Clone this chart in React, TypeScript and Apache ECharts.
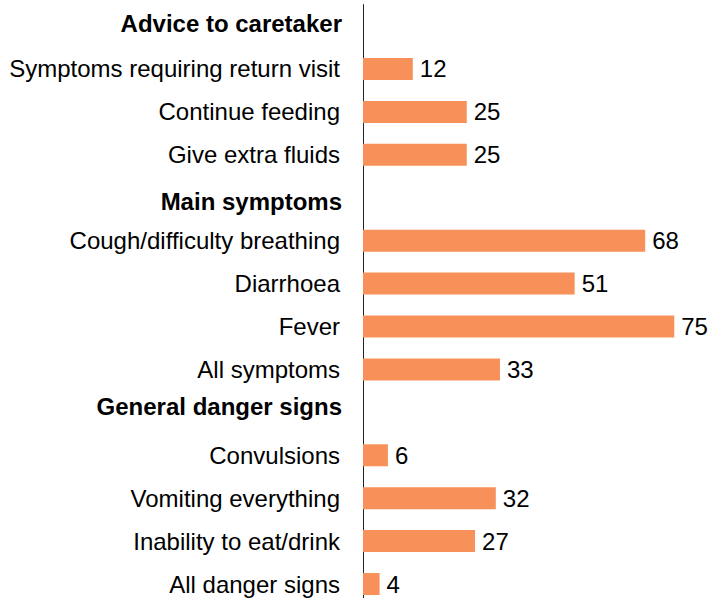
import React, { useEffect, useRef } from "react";
import * as echarts from "echarts";

const categories = [
  "Advice to caretaker",
  "Symptoms requiring return visit",
  "Continue feeding",
  "Give extra fluids",
  "Main symptoms",
  "Cough/difficulty breathing",
  "Diarrhoea",
  "Fever",
  "All symptoms",
  "General danger signs",
  "Convulsions",
  "Vomiting everything",
  "Inability to eat/drink",
  "All danger signs",
];
const values: (number | null)[] = [null, 12, 25, 25, null, 68, 51, 75, 33, null, 6, 32, 27, 4];
const isHeader = [true, false, false, false, true, false, false, false, false, true, false, false, false, false];

const FONT = "'Liberation Sans', Arial, sans-serif";

export default function App() {
  const ref = useRef<HTMLDivElement>(null);
  useEffect(() => {
    if (!ref.current) return;
    const chart = echarts.init(ref.current, null, { renderer: "svg" });
    chart.setOption({
      animation: false,
      grid: { left: 363, width: 332, top: 4.6, height: 600.9, containLabel: false },
      xAxis: { type: "value", min: 0, max: 80, show: false },
      yAxis: {
        type: "category",
        inverse: true,
        data: categories,
        axisLine: { show: true, lineStyle: { color: "#222", width: 1 } },
        axisTick: { show: false },
        splitLine: { show: false },
        axisLabel: {
          margin: 21,
          interval: 0,
          formatter: (v: string, i: number) => {
            if (isHeader[i]) return `{h${i}|${v}}`;
            return `{n|${v}}`;
          },
          rich: {
            n: { fontFamily: FONT, fontSize: 24, color: "#000", padding: [0, 2, 0, 0] },
            h0: { fontFamily: FONT, fontSize: 24, fontWeight: "bold", color: "#000", padding: [0, 0, 5, 0] },
            h4: { fontFamily: FONT, fontSize: 24, fontWeight: "bold", color: "#000", padding: [7, 0, 0, 0] },
            h9: { fontFamily: FONT, fontSize: 24, fontWeight: "bold", color: "#000", padding: [0, 0, 12, 0] },
          },
        },
      },
      series: [
        {
          type: "bar",
          data: values.map((v) => (v === null ? "-" : v)),
          barWidth: 22,
          itemStyle: { color: "#F79159" },
          label: {
            show: true,
            position: "right",
            distance: 7,
            fontFamily: FONT,
            fontSize: 24,
            color: "#000",
            formatter: (p: any) => String(p.value),
          },
        },
      ],
    });
    return () => chart.dispose();
  }, []);
  return (
    <div style={{ position: "absolute", left: 0, top: 0, width: 712, height: 598, overflow: "hidden" }}>
      <div ref={ref} style={{ width: 712, height: 612 }} />
    </div>
  );
}
